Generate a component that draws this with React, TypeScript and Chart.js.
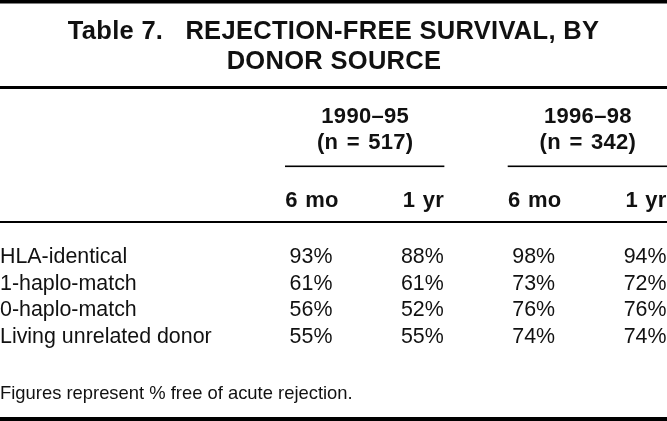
import React, { useEffect, useRef } from "react";
import { Chart, registerables } from "chart.js";

Chart.register(...registerables);

const titleLine1 = "Table 7.   REJECTION-FREE SURVIVAL, BY";
const titleLine2 = "DONOR SOURCE";
const periods = ["1990–95", "1996–98"];
const periodN = ["(n = 517)", "(n = 342)"];
const timepoints = ["6 mo", "1 yr"];
const rowLabels = ["HLA-identical", "1-haplo-match", "0-haplo-match", "Living unrelated donor"];
const v1990_6mo = [93, 61, 56, 55];
const v1990_1yr = [88, 61, 52, 55];
const v1996_6mo = [98, 73, 76, 74];
const v1996_1yr = [94, 72, 76, 74];
const footnote = "Figures represent % free of acute rejection.";

const columns = [v1990_6mo, v1990_1yr, v1996_6mo, v1996_1yr];

const FONT = "'Liberation Sans', Arial, Helvetica, sans-serif";
const INK = "#111";

const tablePlugin = {
  id: "tablePlugin",
  afterDatasetsDraw(chart: any) {
    const ctx = chart.ctx as any;
    const xs = chart.scales.x;
    const ys = chart.scales.y;
    const W = chart.width;
    ctx.save();
    ctx.fillStyle = "#000";
    // rules
    ctx.fillRect(0, 0, W, 3.5);
    ctx.fillRect(0, 86, W, 3);
    ctx.fillRect(0, 221, W, 2);
    ctx.fillRect(0, 417, W, 4);

    ctx.fillStyle = INK;
    ctx.textBaseline = "alphabetic";
    // title
    ctx.font = `bold 25.5px ${FONT}`;
    ctx.letterSpacing = "0.3px";
    ctx.textAlign = "center";
    ctx.fillText(titleLine1, 333.5, 39);
    ctx.fillText(titleLine2, 334, 69);

    // group headers
    ctx.font = `bold 22px ${FONT}`;
    ctx.letterSpacing = "0.3px";
    for (let g = 0; g < 2; g++) {
      const c0 = xs.getPixelForValue(g * 2);
      const c1 = xs.getPixelForValue(g * 2 + 1);
      const mid = (c0 + c1) / 2 - 1.5;
      ctx.textAlign = "center";
      ctx.wordSpacing = "0px";
      ctx.fillText(periods[g], mid, 123);
      ctx.wordSpacing = "2px";
      ctx.fillText(periodN[g], mid, 149);
      ctx.fillStyle = "#000";
      ctx.fillRect(c0 - 26, 165.5, c1 - c0 + 48, 1.6);
      ctx.fillStyle = INK;
      ctx.wordSpacing = "1px";
      for (let t = 0; t < 2; t++) {
        ctx.fillText(timepoints[t], xs.getPixelForValue(g * 2 + t) + 1, 207);
      }
    }
    ctx.wordSpacing = "0px";
    ctx.letterSpacing = "0px";

    // row labels
    ctx.font = `21.4px ${FONT}`;
    ctx.textAlign = "left";
    rowLabels.forEach((lab, r) => {
      ctx.fillText(lab, 0, ys.getPixelForValue(r));
    });

    // cell values
    ctx.textAlign = "center";
    chart.data.datasets.forEach((ds: any, di: number) => {
      const meta = chart.getDatasetMeta(di);
      meta.data.forEach((pt: any, i: number) => {
        ctx.fillText(`${ds.data[i].v}%`, pt.x, pt.y);
      });
    });

    // footnote
    ctx.font = `18.4px ${FONT}`;
    ctx.textAlign = "left";
    ctx.fillText(footnote, 0, 399);
    ctx.restore();
  },
};

export default function App() {
  const ref = useRef<HTMLCanvasElement>(null);
  useEffect(() => {
    if (!ref.current) return;
    const chart = new Chart(ref.current, {
      type: "scatter",
      data: {
        datasets: columns.map((col, ci) => ({
          label: `col${ci}`,
          data: col.map((v, r) => ({ x: ci, y: r, v })),
          pointRadius: 0,
          pointHoverRadius: 0,
        })),
      },
      options: {
        animation: false,
        responsive: false,
        devicePixelRatio: 1,
        layout: { padding: 0 },
        plugins: { legend: { display: false }, tooltip: { enabled: false } },
        scales: {
          x: { type: "linear", min: -2.793, max: 3.197, display: false },
          y: { type: "linear", min: -9.85, max: 5.918, reverse: true, display: false },
        },
      } as any,
      plugins: [tablePlugin],
    });
    return () => chart.destroy();
  }, []);
  return (
    <div style={{ position: "fixed", left: 0, top: 0, width: 667, height: 421, background: "#fff" }}>
      <canvas ref={ref} width={667} height={421} style={{ display: "block" }} />
    </div>
  );
}
